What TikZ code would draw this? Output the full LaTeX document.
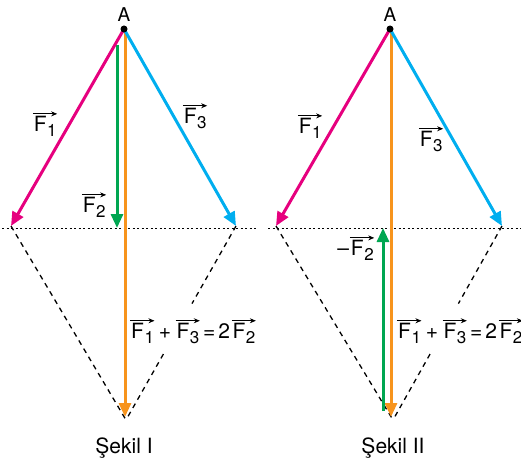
\documentclass[tikz,border=0pt]{standalone}
\usepackage{fontspec}
\setmainfont{TeX Gyre Heros}
\usetikzlibrary{arrows.meta,calc}
\definecolor{fmagenta}{RGB}{230,0,126}
\definecolor{fcyan}{RGB}{0,174,239}
\definecolor{fgreen}{RGB}{0,166,81}
\definecolor{forange}{RGB}{247,148,29}
% vector F with an index and a small arrow above it
\newcommand{\vF}[1]{\tikz[baseline=(vfbox.base)]{%
    \node[inner sep=0pt, outer sep=0pt] (vfbox)
        {F\kern0.5pt\raisebox{-0.45ex}{\fontsize{17}{17}\selectfont #1}};%
    \draw[line width=0.8pt, -{Stealth[length=6pt,width=5pt]}]
        ([xshift=-1pt,yshift=2.5pt]vfbox.north west)
        -- ([xshift=0.5pt,yshift=2.5pt]vfbox.north east);}}
\begin{document}
\begin{tikzpicture}[
        x=1pt, y=-1pt,
        force/.style={
            line width=3pt,
            -{Triangle[length=14pt,width=12pt]}
        },
        guide/.style={
            black,
            line width=1.3pt,
            dash pattern=on 5pt off 4.5pt
        },
        level/.style={
            black,
            line width=1pt,
            dash pattern=on 2pt off 2.5pt
        },
        point/.style={
            circle,
            fill=black,
            inner sep=0pt,
            minimum size=7pt
        },
        label text/.style={
            font=\fontsize{21}{23}\selectfont,
            inner sep=0pt
        },
        caption text/.style={
            font=\fontsize{21}{23}\selectfont,
            inner sep=0pt
        }
    ]
        \useasboundingbox (0,0) rectangle (521,465);

        % Sekil I
        \coordinate (A1) at (124,29);
        \coordinate (left1) at (11,226);
        \coordinate (right1) at (236,226);
        \coordinate (bottom1) at (126,420);
        \coordinate (sum1) at (125,417);
        \coordinate (f2start) at (117,45);
        \coordinate (f2end) at (117,228);
        \coordinate (lineL1) at (2,228);
        \coordinate (lineR1) at (256,228);

        \draw[level] (lineL1) -- (lineR1);
        \draw[guide] (left1) -- (bottom1);
        \draw[guide] (right1) -- ($(right1)!0.40!(bottom1)$);
        \draw[guide] ($(right1)!0.66!(bottom1)$) -- (bottom1);
        \draw[force, forange] (A1 -| sum1) -- (sum1);
        \draw[force, fgreen] (f2start) -- (f2end);
        \draw[force, fmagenta] (A1) -- (left1);
        \draw[force, fcyan] (A1) -- (right1);
        \node[point] (dot1) at (A1) {};

        \node[label text, font=\fontsize{19}{21}\selectfont] (a1) at (124,15) {A};
        \node[label text] (f1a) at (45,124) {\vF{1}};
        \node[label text] (f3a) at (195,116) {\vF{3}};
        \node[label text] (f2a) at (94,205) {\vF{2}};
        \node[label text] (suma) at (193,331)
            {\vF{1}\kern4pt+\kern4pt\vF{3}\kern3pt=\kern3pt2\kern1pt\vF{2}};
        \node[caption text] (cap1) at (124,448) {Şekil I};

        % Sekil II
        \coordinate (A2) at (390,29);
        \coordinate (left2) at (276,226);
        \coordinate (right2) at (502,226);
        \coordinate (bottom2) at (393,420);
        \coordinate (sum2) at (391,417);
        \coordinate (g2start) at (383,411);
        \coordinate (g2end) at (383,228);
        \coordinate (lineL2) at (268,228);
        \coordinate (lineR2) at (521,228);

        \draw[level] (lineL2) -- (lineR2);
        \draw[guide] (left2) -- (bottom2);
        \draw[guide] (right2) -- ($(right2)!0.40!(bottom2)$);
        \draw[guide] ($(right2)!0.66!(bottom2)$) -- (bottom2);
        \draw[force, forange] (A2 -| sum2) -- (sum2);
        \draw[force, fgreen] (g2start) -- (g2end);
        \draw[force, fmagenta] (A2) -- (left2);
        \draw[force, fcyan] (A2) -- (right2);
        \node[point] (dot2) at (A2) {};

        \node[label text, font=\fontsize{19}{21}\selectfont] (a2) at (390,15) {A};
        \node[label text] (f1b) at (310,126) {\vF{1}};
        \node[label text] (f3b) at (431,139) {\vF{3}};
        \node[label text] (f2b) at (356,248) {--\kern0.5pt\vF{2}};
        \node[label text] (sumb) at (460,331)
            {\vF{1}\kern4pt+\kern4pt\vF{3}\kern3pt=\kern3pt2\kern1pt\vF{2}};
        \node[caption text] (cap2) at (393,448) {Şekil II};
    \end{tikzpicture}
\end{document}
